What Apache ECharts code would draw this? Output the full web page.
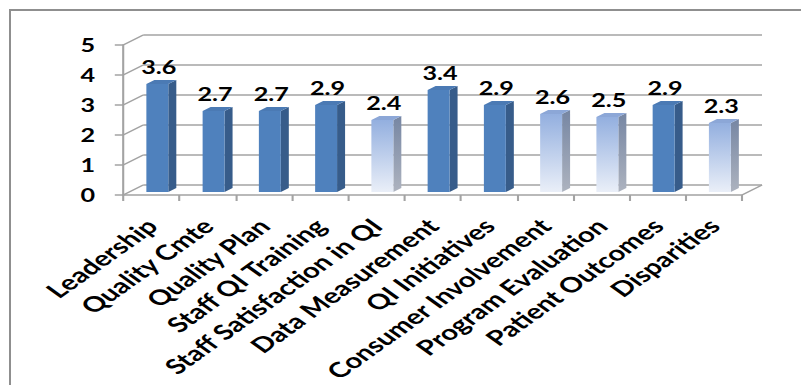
<!DOCTYPE html>
<html>
<head>
<meta charset="utf-8">
<script src="https://cdn.jsdelivr.net/npm/echarts/dist/echarts.min.js"></script>
<style>
  html, body { margin: 0; padding: 0; background: #fff; overflow: hidden; width: 801px; height: 385px; }
  #wrap { position: relative; width: 801px; height: 385px; overflow: hidden; }
  /* the chart is laid out narrow and widened horizontally */
  #chart { position: absolute; left: 0; top: 0; width: 572px; height: 385px; transform: scaleX(1.4); transform-origin: 0 0; }
  /* blank margin to the right of the plot */
  #margin { position: absolute; left: 768px; top: 0; width: 33px; height: 385px; background: #fff; }
  /* outer chart-area border: only its left and top edges fall inside the page */
  #frame { position: absolute; left: 9px; top: 9px; width: 790px; height: 374px;
           border-left: 2px solid #8f8f8f; border-top: 2px solid #8f8f8f; pointer-events: none; }
</style>
</head>
<body>
<div id="wrap">
  <div id="chart"></div>
  <div id="margin"></div>
  <div id="frame"></div>
</div>
<script>
// ---- data ----
const categories = [
  'Leadership', 'Quality Cmte', 'Quality Plan', 'Staff QI Training',
  'Staff Satisfaction in QI', 'Data Measurement', 'QI Initiatives',
  'Consumer Involvement', 'Program Evaluation', 'Patient Outcomes', 'Disparities'
];
const scores = [3.6, 2.7, 2.7, 2.9, 2.4, 3.4, 2.9, 2.6, 2.5, 2.9, 2.3];
const yTicks = [0, 1, 2, 3, 4, 5];

// ---- layout & style ----
const DEPTH = [14.3, -10];          // offset of the back wall from the front plane
const FRONT = { left: 88, top: 45, width: 442, height: 150 };
const BAR_RATIO = 0.39;             // bar face width / category width
const F0 = 0.3, F1 = 0.7;           // bar depth span (fraction of the box depth)
const LIGHT_BELOW = 2.7;            // scores under this are drawn in the pale style
const GRID_COLOR = '#a3a3a3';
const FONT = 'Lato, "Open Sans", sans-serif';

const chart = echarts.init(document.getElementById('chart'), null, {
  renderer: 'svg', width: 572, height: 385
});

function grad(a, b) {
  return new echarts.graphic.LinearGradient(0, 0, 0, 1, [
    { offset: 0, color: a }, { offset: 1, color: b }
  ]);
}

// side-wall and floor edges running from the front plane to the back wall
function renderWalls(params, api) {
  const cs = params.coordSys;
  const v = api.value(1);
  const y = api.coord([0, v])[1];
  const st = { stroke: GRID_COLOR, lineWidth: 1.5 };
  const children = [{
    type: 'line',
    shape: { x1: cs.x, y1: y, x2: cs.x + DEPTH[0], y2: y + DEPTH[1] },
    style: st
  }];
  if (v === 0) {
    children.push({
      type: 'line',
      shape: { x1: cs.x + cs.width, y1: y, x2: cs.x + cs.width + DEPTH[0], y2: y + DEPTH[1] },
      style: st
    });
  }
  return { type: 'group', children };
}

// 3-D column: side face, front face, top face and value label
function renderBar(params, api) {
  const i = api.value(0), v = api.value(1);
  const cat = api.size([1, 0])[0];
  const p0 = api.coord([i, 0]);
  const p1 = api.coord([i, v]);
  const w = cat * BAR_RATIO;
  const fx = DEPTH[0] * F0, fy = DEPTH[1] * F0;
  const ddx = DEPTH[0] * (F1 - F0), ddy = DEPTH[1] * (F1 - F0);
  const x0 = p0[0] + fx - w / 2, x1 = x0 + w;
  const yT = p1[1] + fy, yB = p0[1] + fy;
  const light = v < LIGHT_BELOW;
  const front = light ? grad('#93afdf', '#eaeff8') : '#4f81bd';
  const side = light ? grad('#7686a3', '#adb3bf') : '#375c8a';
  const top = light ? '#8ca7d7' : '#4b7ab4';
  return {
    type: 'group',
    children: [
      { type: 'polygon', shape: { points: [[x1, yT], [x1 + ddx, yT + ddy], [x1 + ddx, yB + ddy], [x1, yB]] }, style: { fill: side } },
      { type: 'rect', shape: { x: x0, y: yT, width: w, height: yB - yT }, style: { fill: front } },
      { type: 'polygon', shape: { points: [[x0, yT], [x1, yT], [x1 + ddx, yT + ddy], [x0 + ddx, yT + ddy]] }, style: { fill: top } },
      {
        type: 'text', x: x0 + w / 2 + 1, y: yT - 16.5,
        style: {
          text: v.toFixed(1), fill: '#000', align: 'center', verticalAlign: 'middle',
          fontFamily: FONT, fontWeight: 'bold', fontSize: 18
        }
      }
    ]
  };
}

const axisLine = { show: true, lineStyle: { color: GRID_COLOR, width: 1.5 } };

chart.setOption({
  animation: false,
  backgroundColor: '#fff',
  grid: [
    { left: FRONT.left, top: FRONT.top, width: FRONT.width, height: FRONT.height, outerBoundsMode: 'none', containLabel: false },
    { left: FRONT.left + DEPTH[0], top: FRONT.top + DEPTH[1], width: FRONT.width, height: FRONT.height, outerBoundsMode: 'none', containLabel: false }
  ],
  xAxis: [
    {
      type: 'category', gridIndex: 0, data: categories,
      axisLine, axisTick: { show: true, length: 6, lineStyle: { color: GRID_COLOR, width: 1.5 } },
      axisLabel: {
        interval: 0, rotate: 45, margin: 27, color: '#000',
        fontFamily: FONT, fontWeight: 'bold', fontSize: 21
      },
      splitLine: { show: false }
    },
    { type: 'category', gridIndex: 1, data: categories, show: false }
  ],
  yAxis: [
    {
      type: 'value', gridIndex: 0, min: yTicks[0], max: yTicks[yTicks.length - 1], interval: 1,
      axisLine, axisTick: { show: true, length: 6, lineStyle: { color: GRID_COLOR, width: 1.5 } },
      axisLabel: { margin: 20, color: '#000', fontFamily: FONT, fontWeight: 'bold', fontSize: 18 },
      splitLine: { show: false }
    },
    {
      type: 'value', gridIndex: 1, min: yTicks[0], max: yTicks[yTicks.length - 1], interval: 1,
      axisLine: { show: false }, axisTick: { show: false }, axisLabel: { show: false },
      splitLine: { show: true, lineStyle: { color: GRID_COLOR, width: 1.5 } }
    }
  ],
  series: [
    {
      type: 'custom', name: 'walls', xAxisIndex: 0, yAxisIndex: 0, silent: true, z: 1,
      data: yTicks.map(v => [0, v]), renderItem: renderWalls
    },
    {
      type: 'custom', name: 'Score', xAxisIndex: 0, yAxisIndex: 0, z: 3,
      data: scores.map((v, i) => [i, v]), renderItem: renderBar
    }
  ]
});
</script>
</body>
</html>
